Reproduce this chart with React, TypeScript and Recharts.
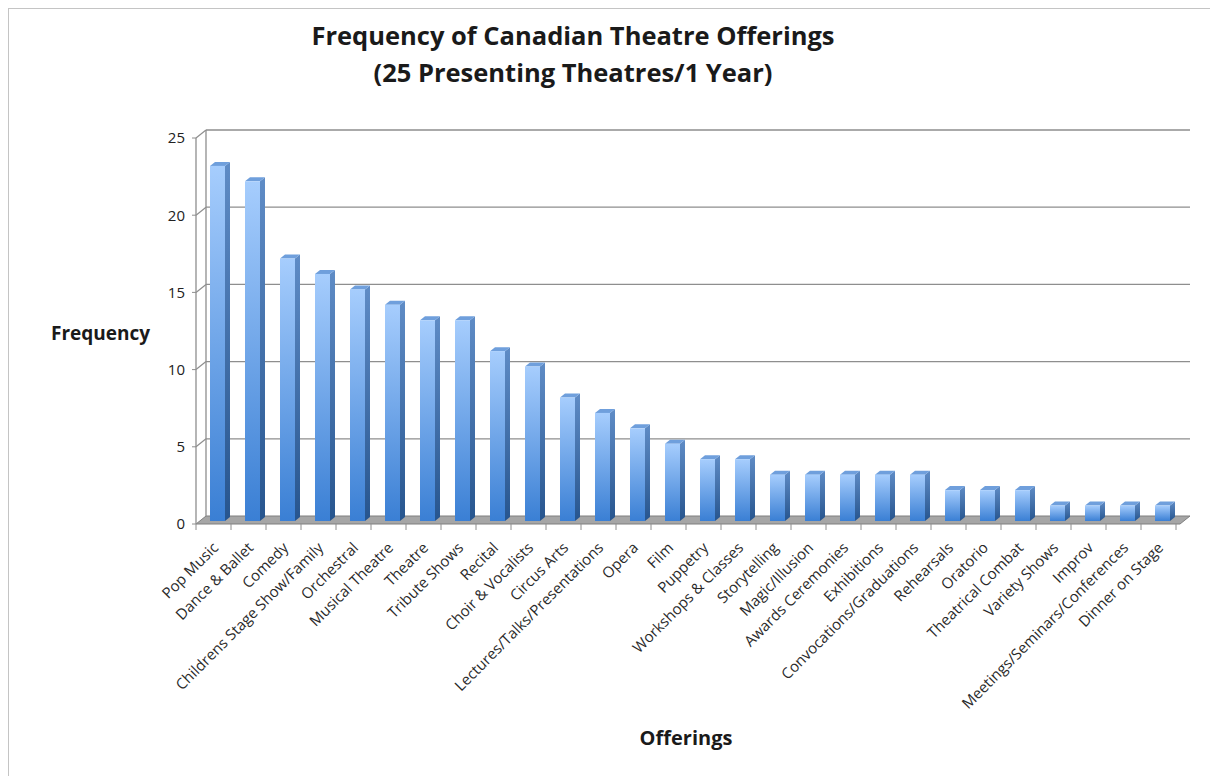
import { BarChart, Bar, XAxis, YAxis, CartesianGrid } from "recharts";

const OFFERINGS = [
  "Pop Music",
  "Dance & Ballet",
  "Comedy",
  "Childrens Stage Show/Family",
  "Orchestral",
  "Musical Theatre",
  "Theatre",
  "Tribute Shows",
  "Recital",
  "Choir & Vocalists",
  "Circus Arts",
  "Lectures/Talks/Presentations",
  "Opera",
  "Film",
  "Puppetry",
  "Workshops & Classes",
  "Storytelling",
  "Magic/Illusion",
  "Awards Ceremonies",
  "Exhibitions",
  "Convocations/Graduations",
  "Rehearsals",
  "Oratorio",
  "Theatrical Combat",
  "Variety Shows",
  "Improv",
  "Meetings/Seminars/Conferences",
  "Dinner on Stage",
];

const FREQUENCY = [23, 22, 17, 16, 15, 14, 13, 13, 11, 10, 8, 7, 6, 5, 4, 4, 3, 3, 3, 3, 3, 2, 2, 2, 1, 1, 1, 1];

const Y_TICKS = [0, 5, 10, 15, 20, 25];

const data = OFFERINGS.map((name, i) => ({ name, value: FREQUENCY[i] }));

const FONT = '"Open Sans", "Noto Sans", sans-serif';
const W = 1209;
const H = 767;
const MARGIN = { top: 129, right: 42, left: 137, bottom: 112 };
const X_AXIS_H = 140;
const PLOT_TOP = MARGIN.top;
const PLOT_BOTTOM = H - MARGIN.bottom - X_AXIS_H;
// depth of the back wall behind the front axis
const DX = 10;
const DY = 8;
const GRID = "#8e8e8e";

function gridLine(p: any) {
  const y = p.y1;
  const isFloor = Math.abs(y - PLOT_BOTTOM) < 1;
  const isTop = Math.abs(y - PLOT_TOP) < 1;
  return (
    <g key={`g-${p.index}-${y}`}>
      {isFloor ? (
        <polygon
          points={`${p.x1},${y} ${p.x1 + DX},${y - DY} ${p.x2 + DX + 4},${y - DY} ${p.x2 + 4},${y}`}
          fill="#a6a6a6"
          stroke="#7f7f7f"
          strokeWidth={1}
        />
      ) : (
        <>
          <line x1={p.x1} y1={y} x2={p.x1 + DX} y2={y - DY} stroke={GRID} strokeWidth={1.3} />
          <line x1={p.x1 + DX} y1={y - DY} x2={p.x2 + DX + 4} y2={y - DY} stroke={GRID} strokeWidth={1.3} />
        </>
      )}
      {isTop && (
        <line x1={p.x1 + DX} y1={y - DY} x2={p.x1 + DX} y2={PLOT_BOTTOM - DY} stroke={GRID} strokeWidth={1.3} />
      )}
    </g>
  );
}

function Bar3D(props: any) {
  const { x, y, width, height } = props;
  if (height == null || height <= 0) return null;
  const fx = x + 4;
  const fy = y - 3;
  const sx = 5;
  const sy = 4;
  return (
    <g>
      <polygon
        points={`${fx + width},${fy} ${fx + width + sx},${fy - sy} ${fx + width + sx},${fy + height - sy} ${fx + width},${fy + height}`}
        fill="url(#sideGrad)"
      />
      <polygon
        points={`${fx},${fy} ${fx + sx},${fy - sy} ${fx + width + sx},${fy - sy} ${fx + width},${fy}`}
        fill="#6f9fdc"
      />
      <rect x={fx} y={fy} width={width} height={height} fill="url(#frontGrad)" />
    </g>
  );
}

function CategoryTick(props: any) {
  const { x, y, payload, index } = props;
  const half = payload?.offset || 17.5;
  const last = index === OFFERINGS.length - 1;
  return (
    <g>
      <line x1={x - half} y1={y} x2={x - half} y2={y + 6} stroke={GRID} />
      {last && <line x1={x + half} y1={y} x2={x + half} y2={y + 6} stroke={GRID} />}
      <text
        transform={`translate(${x + 2},${y + 21}) rotate(-45)`}
        textAnchor="end"
        dy="0.35em"
        fontSize={15}
        fontFamily={FONT}
        fill="#2a2a2a"
      >
        {payload.value}
      </text>
    </g>
  );
}

export default function App() {
  return (
    <div
      style={{
        position: "relative",
        width: W,
        height: H,
        borderTop: "1px solid #c4c4c4",
        borderLeft: "1px solid #c4c4c4",
        background: "#fff",
        fontFamily: FONT,
      }}
    >
      <div
        style={{
          position: "absolute",
          left: 0,
          top: 8,
          width: 1128,
          textAlign: "center",
          fontSize: 25.5,
          lineHeight: "37px",
          fontWeight: 700,
          color: "#1a1a1a",
        }}
      >
        Frequency of Canadian Theatre Offerings
        <br />
        (25 Presenting Theatres/1 Year)
      </div>
      <div
        style={{
          position: "absolute",
          left: 42,
          top: 312,
          fontSize: 19,
          lineHeight: "24px",
          fontWeight: 700,
          color: "#1a1a1a",
        }}
      >
        Frequency
      </div>
      <div
        style={{
          position: "absolute",
          left: 577,
          top: 717,
          width: 200,
          textAlign: "center",
          fontSize: 20,
          lineHeight: "24px",
          fontWeight: 700,
          color: "#1a1a1a",
        }}
      >
        Offerings
      </div>
      <BarChart width={W} height={H} data={data} margin={MARGIN} barSize={15}>
        <defs>
          <linearGradient id="frontGrad" x1="0" y1="0" x2="0" y2="1">
            <stop offset="0%" stopColor="#a6cdfd" />
            <stop offset="100%" stopColor="#3a7fd4" />
          </linearGradient>
          <linearGradient id="sideGrad" x1="0" y1="0" x2="0" y2="1">
            <stop offset="0%" stopColor="#5f8cc6" />
            <stop offset="100%" stopColor="#27558e" />
          </linearGradient>
        </defs>
        <CartesianGrid vertical={false} horizontal={gridLine} />
        <XAxis
          dataKey="name"
          interval={0}
          height={X_AXIS_H}
          axisLine={false}
          tickLine={false}
          tickSize={0}
          tickMargin={0}
          tick={CategoryTick}
        />
        <YAxis
          domain={[0, 25]}
          ticks={Y_TICKS}
          width={50}
          axisLine={{ stroke: GRID, strokeWidth: 1.3 }}
          tickLine={{ stroke: GRID }}
          tickSize={4}
          tickMargin={7}
          tick={{ fontSize: 15, fill: "#222", fontFamily: FONT }}
        />
        <Bar dataKey="value" shape={Bar3D} isAnimationActive={false} />
      </BarChart>
    </div>
  );
}
